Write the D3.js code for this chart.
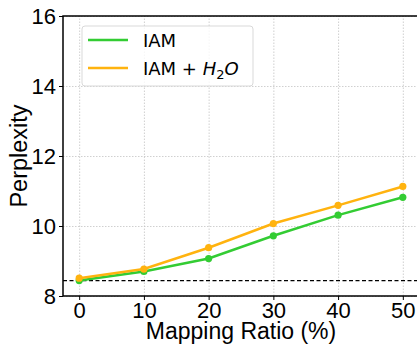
<!DOCTYPE html>
<html>
<head>
<meta charset="utf-8">
<script src="https://cdnjs.cloudflare.com/ajax/libs/d3/7.8.5/d3.min.js"></script>
<style>
  body { margin: 0; background: #fff; }
  svg { display: block; font-family: "Liberation Sans", Arial, sans-serif; }
  .grid line { stroke: #c4c4c4; stroke-width: 0.8; stroke-dasharray: 1.5,1.5; }
  .grid path { display: none; }
  .axis text { font-size: 22px; fill: #000; }
  .axis path, .axis line { stroke: #000; }
</style>
</head>
<body>
<div id="main"></div>
<script>
// values
var ratios = [0, 10, 20, 30, 40, 50];
var iam = [8.44, 8.70, 9.07, 9.72, 10.31, 10.82];
var iamH2O = [8.51, 8.77, 9.38, 10.07, 10.59, 11.13];
var baseline = 8.44;
var yTicks = [8, 10, 12, 14, 16];

const w = 417;
const h = 345;
const padLeft = 63, padTop = 16, padRight = 419, padBottom = 296;

const xScale = d3.scaleLinear().domain([-2.5, 52.5]).range([padLeft, padRight]);
const yScale = d3.scaleLinear().domain([8, 16]).range([padBottom, padTop]);

const svg = d3.select("#main").append("svg").attr("width", w).attr("height", h);

// grid
svg.append("g")
    .attr("class", "grid")
    .attr("transform", "translate(0," + padBottom + ")")
    .call(d3.axisBottom(xScale).tickValues(ratios).tickSize(-(padBottom - padTop)).tickFormat(""));
svg.append("g")
    .attr("class", "grid")
    .attr("transform", "translate(" + padLeft + ",0)")
    .call(d3.axisLeft(yScale).tickValues(yTicks).tickSize(-(padRight - padLeft)).tickFormat(""));

// baseline
svg.append("line")
    .attr("x1", padLeft).attr("x2", padRight)
    .attr("y1", yScale(baseline)).attr("y2", yScale(baseline))
    .attr("stroke", "#000").attr("stroke-width", 1.1)
    .attr("stroke-dasharray", "4,2.5");

const series = [
    {name: "IAM", values: iam, color: "#33cc33"},
    {name: "IAM + H2O", values: iamH2O, color: "#ffb30f"}
];

const line = d3.line().x((d, i) => xScale(ratios[i])).y(d => yScale(d));

series.forEach(function (s) {
    svg.append("path")
        .attr("d", line(s.values))
        .attr("fill", "none")
        .attr("stroke", s.color)
        .attr("stroke-width", 2.5);
    svg.selectAll(null)
        .data(s.values)
        .enter()
        .append("circle")
        .attr("cx", (d, i) => xScale(ratios[i]))
        .attr("cy", d => yScale(d))
        .attr("r", 3.6)
        .attr("fill", s.color);
});

// axes
const xAxis = svg.append("g")
    .attr("class", "axis")
    .attr("transform", "translate(0," + padBottom + ")")
    .call(d3.axisBottom(xScale).tickValues(ratios).tickSize(4).tickPadding(2));
const yAxis = svg.append("g")
    .attr("class", "axis")
    .attr("transform", "translate(" + padLeft + ",0)")
    .call(d3.axisLeft(yScale).tickValues(yTicks).tickSize(4).tickPadding(3));
xAxis.select(".domain").remove();
yAxis.select(".domain").remove();
xAxis.selectAll("line").attr("stroke-width", 1);
yAxis.selectAll("line").attr("stroke-width", 1);

// spines
svg.append("rect")
    .attr("x", padLeft).attr("y", padTop)
    .attr("width", padRight - padLeft).attr("height", padBottom - padTop)
    .attr("fill", "none").attr("stroke", "#000").attr("stroke-width", 1.5);

// axis titles
svg.append("text")
    .attr("x", (padLeft + padRight) / 2)
    .attr("y", 338.5)
    .attr("text-anchor", "middle")
    .style("font-size", "23px")
    .text("Mapping Ratio (%)");
svg.append("text")
    .attr("transform", "translate(27," + (padTop + padBottom) / 2 + ") rotate(-90)")
    .attr("text-anchor", "middle")
    .style("font-size", "23.5px")
    .text("Perplexity");

// legend
const legend = svg.append("g").style("font-family", "'DejaVu Sans', sans-serif");
legend.append("rect")
    .attr("x", 82).attr("y", 26)
    .attr("width", 171).attr("height", 60)
    .attr("rx", 3)
    .attr("fill", "#fff").attr("fill-opacity", 0.8)
    .attr("stroke", "#d9d9d9").attr("stroke-width", 1);
series.forEach(function (s, i) {
    const y = 40 + i * 28;
    legend.append("line")
        .attr("x1", 88).attr("x2", 128)
        .attr("y1", y).attr("y2", y)
        .attr("stroke", s.color).attr("stroke-width", 2.5);
    const t = legend.append("text")
        .attr("x", 143).attr("y", y + 6.5)
        .style("font-size", "18px");
    if (i === 0) {
        t.text(s.name);
    } else {
        t.append("tspan").text("IAM + ");
        t.append("tspan").style("font-style", "italic").text("H");
        t.append("tspan").attr("dy", 4).style("font-size", "13px").text("2");
        t.append("tspan").attr("dy", -4).style("font-style", "italic").text("O");
    }
});
</script>
</body>
</html>
